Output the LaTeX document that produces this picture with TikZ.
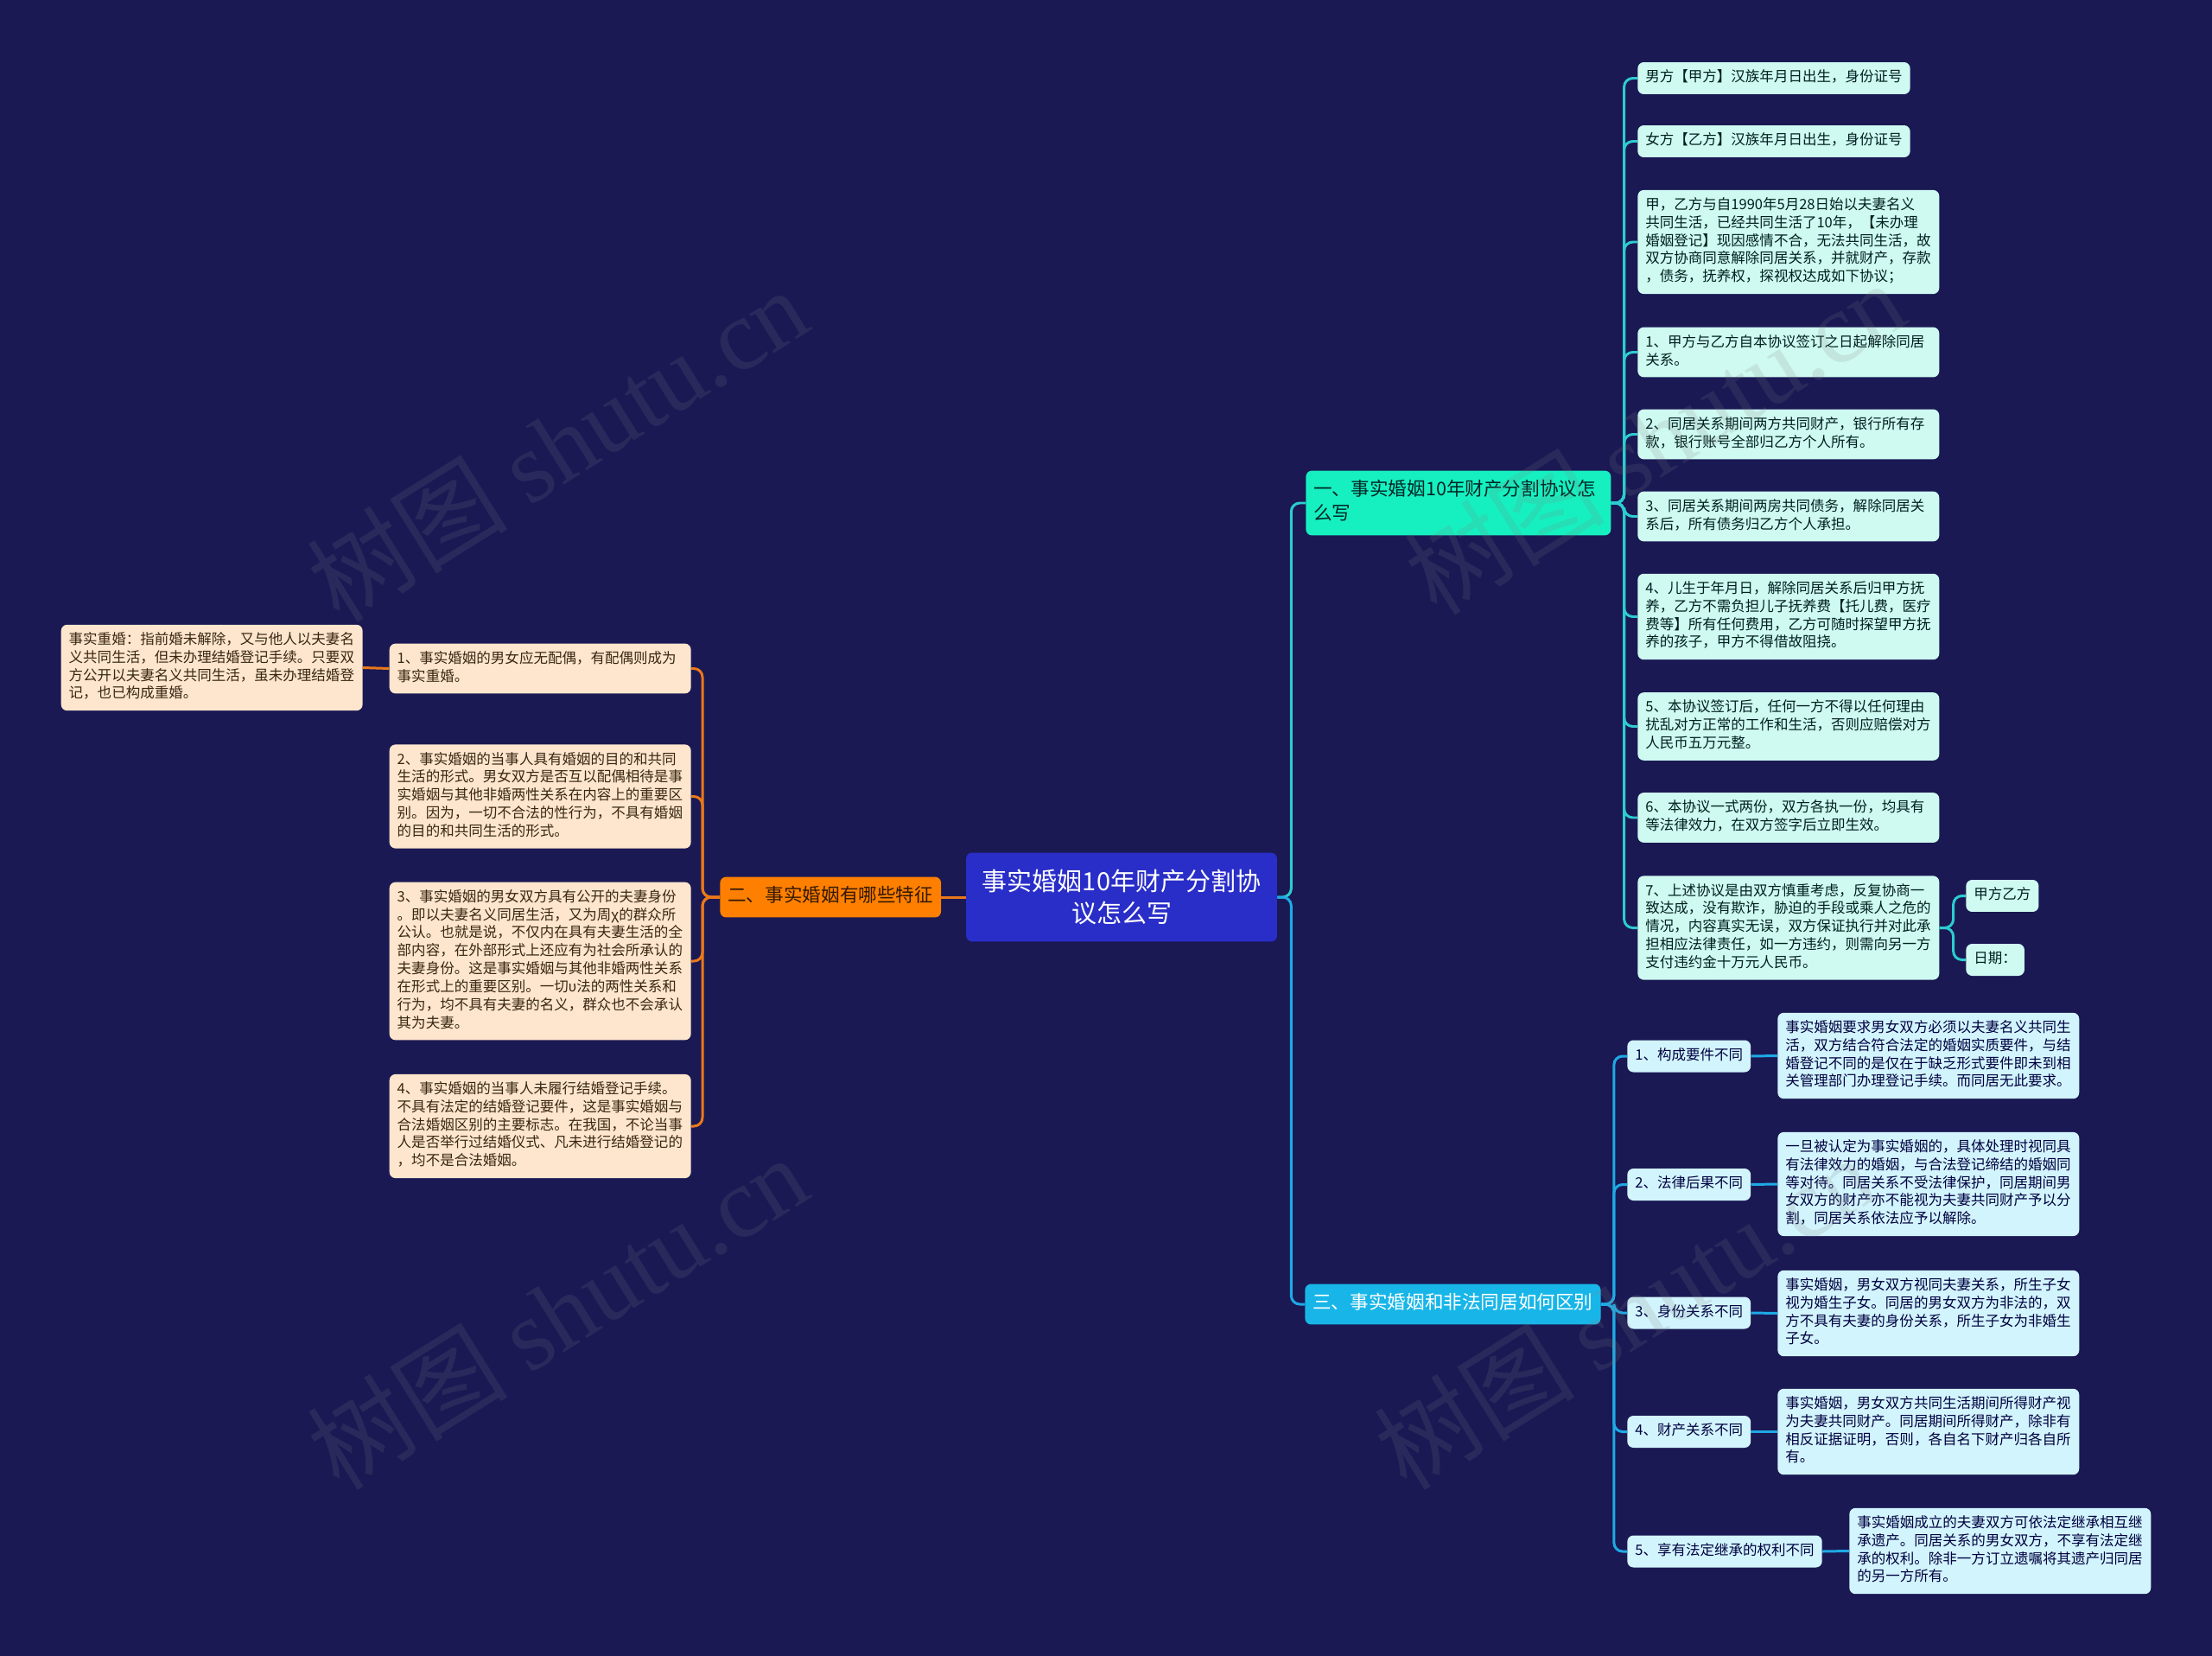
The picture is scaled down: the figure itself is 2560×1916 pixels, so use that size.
\documentclass[tikz,border=0pt]{standalone}
\usepackage{fontspec}
\setmainfont{Noto Sans CJK SC}
\newfontfamily\wmlatin{Liberation Serif}
\usepackage{xcolor}
\usepackage{tikz}
\usetikzlibrary{positioning}

\definecolor{bgnavy}{RGB}{26,25,84}
\definecolor{rootblue}{RGB}{42,46,200}
\definecolor{greenbr}{RGB}{22,240,192}
\definecolor{orangebr}{RGB}{255,128,0}
\definecolor{cyanbr}{RGB}{24,182,232}
\definecolor{mintleaf}{RGB}{207,250,241}
\definecolor{peachleaf}{RGB}{253,230,205}
\definecolor{iceleaf}{RGB}{210,244,252}
\definecolor{tealwire}{RGB}{45,205,205}
\definecolor{bluewire}{RGB}{30,170,230}
\definecolor{orangewire}{RGB}{235,120,25}

\begin{document}
\begin{tikzpicture}[x=0.02cm, y=-0.02cm,
  leafbox/.style={rounded corners=4pt, align=left, inner xsep=0.18cm, inner ysep=4.6pt,
    font=\fontsize{9.4}{11.85}\selectfont,
    execute at begin node=\strut, execute at end node=\strut},
  wide/.style={text width=6.62cm},
  mint/.style={leafbox, fill=mintleaf, text=black!75!teal},
  peach/.style={leafbox, fill=peachleaf, text=black!70!brown},
  ice/.style={leafbox, fill=iceleaf, text=black!75!blue},
  branch/.style={rounded corners=4pt, align=left, inner xsep=0.18cm, inner ysep=0.19cm,
    font=\fontsize{12.3}{15.9}\selectfont,
    execute at begin node=\strut, execute at end node=\strut},
  wire/.style={line width=1.7pt, rounded corners=0.2cm},
  watermark/.style={text=gray, opacity=0.16, rotate=32, font=\fontsize{66}{76}\selectfont}]

\useasboundingbox (0,0) rectangle (2560,1916);
\fill[bgnavy] (0,0) rectangle (2560,1916);

% root and the three branches
\node[fill=rootblue, text=white, rounded corners=4pt, minimum width=7.2cm, minimum height=2.06cm,
  align=center, font=\fontsize{16.5}{21}\selectfont] (root) at (1298,1038) {事实婚姻10年财产分割协\\议怎么写};
\node[branch, fill=greenbr, text=black!70!teal, text width=6.7cm, anchor=west] (b1) at (1511,582)
  {一、事实婚姻10年财产分割协议怎\\么写};
\node[branch, fill=orangebr, text=black!80!orange, anchor=west] (b2) at (833,1038) {二、事实婚姻有哪些特征};
\node[branch, fill=cyanbr, text=white, anchor=west] (b3) at (1510,1509) {三、事实婚姻和非法同居如何区别};

% branch one: the agreement
\node[mint, anchor=west] (l1) at (1895,90.5) {男方【甲方】汉族年月日出生，身份证号};
\node[mint, anchor=west] (l2) at (1895,163.5) {女方【乙方】汉族年月日出生，身份证号};
\node[mint, wide, anchor=west] (l3) at (1895,280) {甲，乙方与自1990年5月28日始以夫妻名义\\共同生活，已经共同生活了10年，【未办理\\婚姻登记】现因感情不合，无法共同生活，故\\双方协商同意解除同居关系，并就财产，存款\\，债务，抚养权，探视权达成如下协议；};
\node[mint, wide, anchor=west] (l4) at (1895,407.5) {1、甲方与乙方自本协议签订之日起解除同居\\关系。};
\node[mint, wide, anchor=west] (l5) at (1895,502.5) {2、同居关系期间两方共同财产，银行所有存\\款，银行账号全部归乙方个人所有。};
\node[mint, wide, anchor=west] (l6) at (1895,597.5) {3、同居关系期间两房共同债务，解除同居关\\系后，所有债务归乙方个人承担。};
\node[mint, wide, anchor=west] (l7) at (1895,713.5) {4、儿生于年月日，解除同居关系后归甲方抚\\养，乙方不需负担儿子抚养费【托儿费，医疗\\费等】所有任何费用，乙方可随时探望甲方抚\\养的孩子，甲方不得借故阻挠。};
\node[mint, wide, anchor=west] (l8) at (1895,840.5) {5、本协议签订后，任何一方不得以任何理由\\扰乱对方正常的工作和生活，否则应赔偿对方\\人民币五万元整。};
\node[mint, wide, anchor=west] (l9) at (1895,946) {6、本协议一式两份，双方各执一份，均具有\\等法律效力，在双方签字后立即生效。};
\node[mint, wide, anchor=west] (l10) at (1895,1073.5) {7、上述协议是由双方慎重考虑，反复协商一\\致达成，没有欺诈，胁迫的手段或乘人之危的\\情况，内容真实无误，双方保证执行并对此承\\担相应法律责任，如一方违约，则需向另一方\\支付违约金十万元人民币。};
\node[mint, anchor=west] (sign) at (2275,1036.5) {甲方乙方};
\node[mint, anchor=west] (date) at (2275,1110.5) {日期：};

% branch two: features
\node[peach, wide, anchor=east] (o1) at (800,773.5) {1、事实婚姻的男女应无配偶，有配偶则成为\\事实重婚。};
\node[peach, wide, anchor=east] (o2) at (800,921.5) {2、事实婚姻的当事人具有婚姻的目的和共同\\生活的形式。男女双方是否互以配偶相待是事\\实婚姻与其他非婚两性关系在内容上的重要区\\别。因为，一切不合法的性行为，不具有婚姻\\的目的和共同生活的形式。};
\node[peach, wide, anchor=east] (o3) at (800,1112) {3、事实婚姻的男女双方具有公开的夫妻身份\\。即以夫妻名义同居生活，又为周χ的群众所\\公认。也就是说，不仅内在具有夫妻生活的全\\部内容，在外部形式上还应有为社会所承认的\\夫妻身份。这是事实婚姻与其他非婚两性关系\\在形式上的重要区别。一切υ法的两性关系和\\行为，均不具有夫妻的名义，群众也不会承认\\其为夫妻。};
\node[peach, wide, anchor=east] (o4) at (800,1303) {4、事实婚姻的当事人未履行结婚登记手续。\\不具有法定的结婚登记要件，这是事实婚姻与\\合法婚姻区别的主要标志。在我国，不论当事\\人是否举行过结婚仪式、凡未进行结婚登记的\\，均不是合法婚姻。};
\node[peach, wide, anchor=east] (bigamy) at (420,772.5) {事实重婚：指前婚未解除，又与他人以夫妻名\\义共同生活，但未办理结婚登记手续。只要双\\方公开以夫妻名义共同生活，虽未办理结婚登\\记，也已构成重婚。};

% branch three: differences
\node[ice, anchor=west] (s1) at (1883,1222) {1、构成要件不同};
\node[ice, anchor=west] (s2) at (1883,1370.5) {2、法律后果不同};
\node[ice, anchor=west] (s3) at (1883,1519) {3、身份关系不同};
\node[ice, anchor=west] (s4) at (1883,1656.5) {4、财产关系不同};
\node[ice, anchor=west] (s5) at (1883,1795) {5、享有法定继承的权利不同};
\node[ice, wide, anchor=west] (d1) at (2057,1221.5) {事实婚姻要求男女双方必须以夫妻名义共同生\\活，双方结合符合法定的婚姻实质要件，与结\\婚登记不同的是仅在于缺乏形式要件即未到相\\关管理部门办理登记手续。而同居无此要求。};
\node[ice, wide, anchor=west] (d2) at (2057,1370) {一旦被认定为事实婚姻的，具体处理时视同具\\有法律效力的婚姻，与合法登记缔结的婚姻同\\等对待。同居关系不受法律保护，同居期间男\\女双方的财产亦不能视为夫妻共同财产予以分\\割，同居关系依法应予以解除。};
\node[ice, wide, anchor=west] (d3) at (2057,1519.5) {事实婚姻，男女双方视同夫妻关系，所生子女\\视为婚生子女。同居的男女双方为非法的，双\\方不具有夫妻的身份关系，所生子女为非婚生\\子女。};
\node[ice, wide, anchor=west] (d4) at (2057,1656.5) {事实婚姻，男女双方共同生活期间所得财产视\\为夫妻共同财产。同居期间所得财产，除非有\\相反证据证明，否则，各自名下财产归各自所\\有。};
\node[ice, wide, anchor=west] (d5) at (2140,1794.5) {事实婚姻成立的夫妻双方可依法定继承相互继\\承遗产。同居关系的男女双方，不享有法定继\\承的权利。除非一方订立遗嘱将其遗产归同居\\的另一方所有。};

% connectors
\draw[wire, tealwire] (root.east) -- ++(16,0) |- (b1.west);
\draw[wire, bluewire] (root.east) -- ++(16,0) |- (b3.west);
\draw[wire, orangewire] (root.west) -- (b2.east);
\foreach \leaf in {l1,l2,l3,l4,l5,l6,l7,l8,l9,l10}{
  \draw[wire, tealwire] (b1.east) -- ++(15,0) |- (\leaf.west);
}
\foreach \leaf in {sign,date}{
  \draw[wire, tealwire] (l10.east) -- ++(16,0) |- (\leaf.west);
}
\foreach \leaf in {o1,o2,o3,o4}{
  \draw[wire, orangewire] (b2.west) -- ++(-20,0) |- (\leaf.east);
}
\draw[wire, orangewire] (o1.west) -- (bigamy.east);
\foreach \i in {1,...,5}{
  \draw[wire, bluewire] (b3.east) -- ++(15,0) |- (s\i.west);
  \draw[wire, bluewire] (s\i.east) -- (d\i.west);
}

% watermarks
\node[watermark] (wm1) at (645,514) {树图 {\wmlatin shutu.cn}};
\node[watermark] (wm2) at (645,1518) {树图 {\wmlatin shutu.cn}};
\node[watermark] (wm3) at (1915,506) {树图 {\wmlatin shutu.cn}};
\node[watermark] (wm4) at (1880,1518) {树图 {\wmlatin shutu.cn}};
\end{tikzpicture}
\end{document}
